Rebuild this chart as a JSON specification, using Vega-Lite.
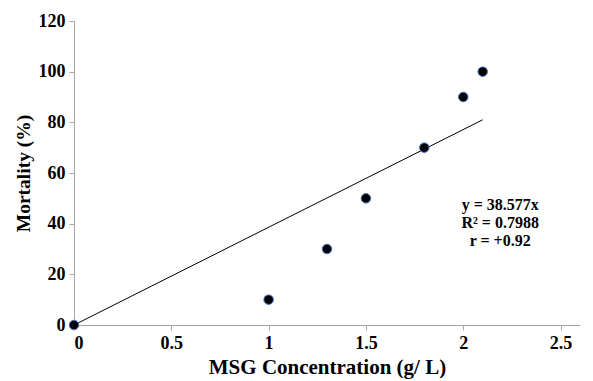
{
  "$schema": "https://vega.github.io/schema/vega-lite/v6.json",
  "autosize": "none",
  "width": 506,
  "height": 304,
  "padding": {"left": 74, "top": 21, "right": 13, "bottom": 56},
  "background": "white",
  "config": {
    "view": {"stroke": null},
    "font": "Liberation Serif",
    "axis": {
      "grid": false,
      "domainColor": "#a6a6a6",
      "tickColor": "#a6a6a6",
      "tickSize": 5,
      "labelFont": "Liberation Serif",
      "labelFontWeight": "bold",
      "labelFontSize": 18,
      "labelColor": "black",
      "titleFont": "Liberation Serif",
      "titleFontWeight": "bold",
      "titleColor": "black"
    }
  },
  "datasets": {
    "pts": [
      {"conc": 0, "mort": 0},
      {"conc": 1, "mort": 10},
      {"conc": 1.3, "mort": 30},
      {"conc": 1.5, "mort": 50},
      {"conc": 1.8, "mort": 70},
      {"conc": 2, "mort": 90},
      {"conc": 2.1, "mort": 100}
    ],
    "trend": [
      {"conc": 0, "mort": 0},
      {"conc": 2.1, "mort": 81.01}
    ],
    "labels": [
      {"conc": 2.19, "mort": 47.3, "txt": "y = 38.577x"},
      {"conc": 2.19, "mort": 40.2, "txt": "R² = 0.7988"},
      {"conc": 2.19, "mort": 33.1, "txt": "r = +0.92"}
    ]
  },
  "layer": [
    {
      "data": {"name": "trend"},
      "mark": {"type": "line", "color": "black", "strokeWidth": 1},
      "encoding": {
        "x": {
          "field": "conc", "type": "quantitative",
          "scale": {"domain": [0, 2.5]},
          "axis": {"values": [0, 0.5, 1, 1.5, 2, 2.5], "title": "MSG Concentration (g/ L)", "titleFontSize": 21, "labelPadding": 4, "titlePadding": 4, "format": "~g"}
        },
        "y": {
          "field": "mort", "type": "quantitative",
          "scale": {"domain": [0, 120]},
          "axis": {"values": [0, 20, 40, 60, 80, 100, 120], "title": "Mortality (%)", "titleFontSize": 19.5, "labelPadding": 4, "titlePadding": 5}
        }
      }
    },
    {
      "data": {"name": "pts"},
      "mark": {"type": "point", "filled": true, "fill": "black", "stroke": "#4472c4", "strokeWidth": 1, "size": 90, "opacity": 1, "clip": false},
      "encoding": {
        "x": {"field": "conc", "type": "quantitative"},
        "y": {"field": "mort", "type": "quantitative"}
      }
    },
    {
      "data": {"name": "labels"},
      "mark": {"type": "text", "font": "Liberation Serif", "fontWeight": "bold", "fontSize": 16, "color": "black", "align": "center", "baseline": "middle"},
      "encoding": {
        "x": {"field": "conc", "type": "quantitative"},
        "y": {"field": "mort", "type": "quantitative"},
        "text": {"field": "txt"}
      }
    }
  ]
}
